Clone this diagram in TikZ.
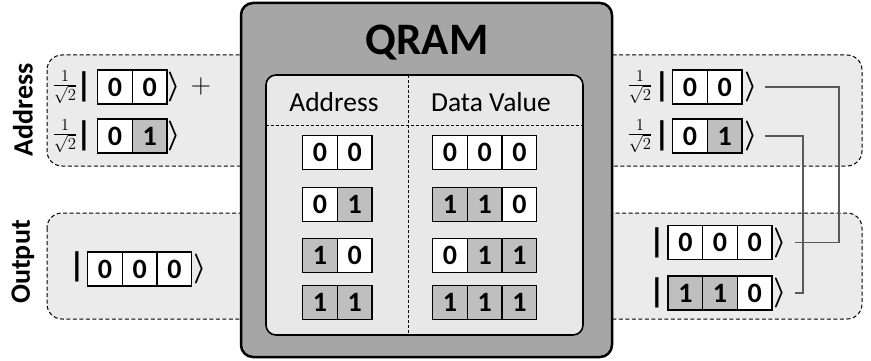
\documentclass[tikz,border=0pt]{standalone}
\usepackage{fix-cm}
\usepackage{fontspec}
\setmainfont{Carlito}
\usepackage{tikz}
\usetikzlibrary{positioning}

\definecolor{panelgray}{HTML}{EBEBEB}
\definecolor{qramgray}{HTML}{A6A6A6}
\definecolor{tablegray}{HTML}{E8E8E8}
\definecolor{bitgray}{HTML}{BFBFBF}
\definecolor{wiregray}{HTML}{595959}

\tikzset{
  bit/.style={draw, line width=1.3pt, minimum width=34.7pt, minimum height=34pt,
    inner sep=0pt, font=\fontsize{28}{28}\selectfont\bfseries},
  bit0/.style={bit, fill=white},
  bit1/.style={bit, fill=bitgray},
  panel/.style={draw, dashed, dash pattern=on 4pt off 2.5pt, line width=1pt,
    fill=panelgray, rounded corners=15pt},
  sidelabel/.style={rotate=90, font=\fontsize{28}{28}\selectfont\bfseries},
  head/.style={font=\fontsize{27.5}{27.5}\selectfont},
  ketbar/.style={inner sep=0pt, font=\fontsize{34}{34}\selectfont\bfseries},
  ketend/.style={inner sep=0pt, font=\fontsize{30}{30}\selectfont\boldmath},
  amp/.style={inner sep=0pt, font=\fontsize{24}{24}\selectfont},
  wire/.style={draw=wiregray, line width=1.3pt},
}

% one register of bits: name, left edge, centre y, list of bits
\newcommand{\register}[4]{%
  \foreach \bitval [count=\i] in {#4}
    \node[bit\bitval] (#1\i) at ({#2+(\i-0.5)*34.7},#3) {\bitval};
}

\begin{document}
\begin{tikzpicture}[x=1pt, y=-1pt]
  \useasboundingbox (0,0) rectangle (871,361);

  % input / output bands
  \draw[panel] (47,55) rectangle (862,166);
  \draw[panel] (47,213) rectangle (862,319);
  \node[sidelabel] (laddr) at (23,110) {Address};
  \node[sidelabel] (lout) at (23,262) {Output};

  % QRAM box
  \draw[fill=qramgray, line width=2.5pt, rounded corners=12pt] (241,3) rectangle (612,357);
  \node[font=\fontsize{45}{45}\selectfont\bfseries] (title) at (427,43) {QRAM};
  \draw[fill=tablegray, line width=1.6pt, rounded corners=10pt] (266,75) rectangle (583,335);
  \draw[dashed, line width=0.8pt, dash pattern=on 3pt off 2pt] (408,75) -- (408,335);
  \draw[dashed, line width=0.8pt, dash pattern=on 3pt off 2pt] (266,125) -- (583,125);
  \node[head] (haddr) at (334,102) {Address};
  \node[head] (hdata) at (491,102) {Data Value};

  % memory table
  \register{ta}{302.7}{152.5}{0,0}
  \register{tb}{302.7}{204.5}{0,1}
  \register{tc}{302.7}{255.5}{1,0}
  \register{td}{302.7}{302.5}{1,1}
  \register{da}{432.7}{152.5}{0,0,0}
  \register{db}{432.7}{204.5}{1,1,0}
  \register{dc}{432.7}{255.5}{0,1,1}
  \register{dd}{432.7}{302.5}{1,1,1}

  % address in (left)
  \node[amp] (lf1) at (65,87) {$\frac{1}{\sqrt{2}}$};
  \node[ketbar] (lb1) at (84,87) {|};
  \register{la}{97.7}{87}{0,0}
  \node[ketend] (lr1) at (174,87) {$\rangle$};
  \node[font=\fontsize{28}{28}\selectfont] (lplus) at (201,87) {$+$};
  \node[amp] (lf2) at (65,136) {$\frac{1}{\sqrt{2}}$};
  \node[ketbar] (lb2) at (84,136) {|};
  \register{lc}{97.7}{136}{0,1}
  \node[ketend] (lr2) at (174,136) {$\rangle$};

  % output in (left)
  \node[ketbar] (lb3) at (77,267) {|};
  \register{lo}{87.7}{269}{0,0,0}
  \node[ketend] (lr3) at (200,269) {$\rangle$};

  % address out (right)
  \node[amp] (rf1) at (640,87) {$\frac{1}{\sqrt{2}}$};
  \node[ketbar] (rb1) at (662,87) {|};
  \register{ra}{672.7}{87}{0,0}
  \node[ketend] (rr1) at (751,87) {$\rangle$};
  \node[amp] (rf2) at (640,136) {$\frac{1}{\sqrt{2}}$};
  \node[ketbar] (rb2) at (662,136) {|};
  \register{rc}{672.7}{136}{0,1}
  \node[ketend] (rr2) at (751,136) {$\rangle$};

  % output out (right)
  \node[ketbar] (rb3) at (657,242.5) {|};
  \register{ro}{668}{242.5}{0,0,0}
  \node[ketend] (rr3) at (780,242.5) {$\rangle$};
  \node[ketbar] (rb4) at (657,293) {|};
  \register{rp}{668}{293}{1,1,0}
  \node[ketend] (rr4) at (780,293) {$\rangle$};

  % entanglement wires
  \draw[wire] ([xshift=7pt]rr1.east) -| ([xshift=52pt]rr3.east) -- ([xshift=8pt]rr3.east);
  \draw[wire] ([xshift=7pt]rr2.east) -| ([xshift=16pt]rr4.east) -- ([xshift=8pt]rr4.east);
\end{tikzpicture}
\end{document}
